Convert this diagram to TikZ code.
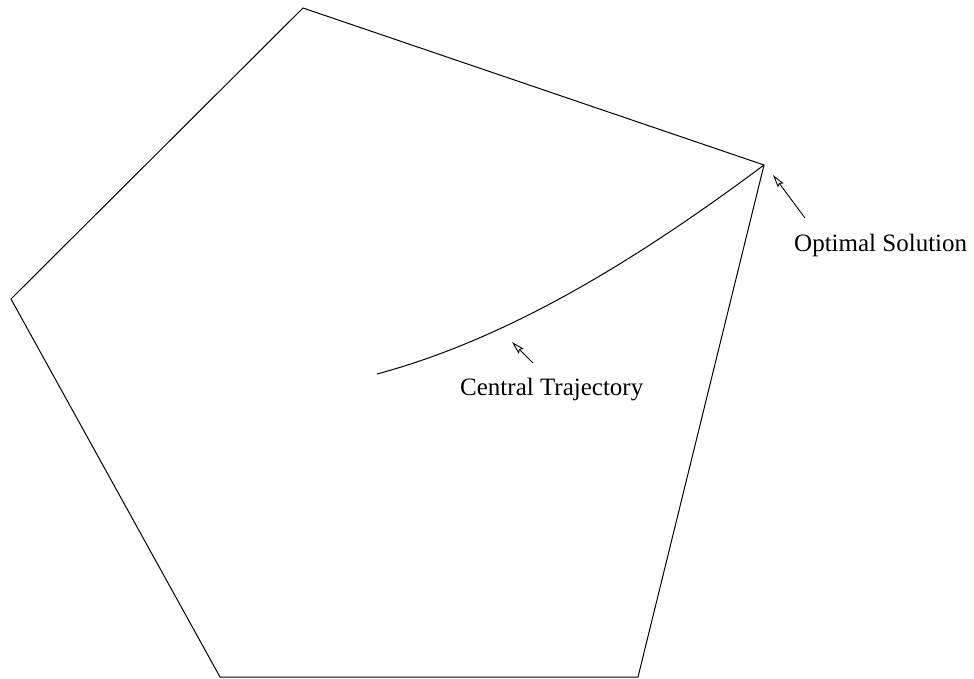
\documentclass[tikz,border=0pt]{standalone}
\usepackage{fontspec}
\setmainfont{Liberation Serif}
\usetikzlibrary{arrows.meta}
\begin{document}
\begin{tikzpicture}[x=1pt,y=-1pt,
  edge/.style={line width=1pt, line join=miter},
  lbl/.style={font=\fontsize{25}{30}\selectfont, anchor=base west, inner sep=0pt},
  pointer/.style={line width=0.9pt, -{Stealth[open, length=13pt, width=7pt, inset=2pt]}}]
\useasboundingbox (0,0) rectangle (974,679);
\coordinate (A) at (303,8);
\coordinate (B) at (764,165);
\coordinate (C) at (638,677);
\coordinate (D) at (220,677);
\coordinate (E) at (11,299);
\coordinate (S) at (377,374);
\draw[edge] (A) -- (B) -- (C) -- (D) -- (E) -- cycle;
\draw[edge] (S) .. controls (507,339) and (634,262) .. (B);
\node[lbl] (opt) at (794,251) {Optimal Solution};
\node[lbl] (ct) at (460,395) {Central Trajectory};
\coordinate (optTail) at (805,218);
\coordinate (optHead) at (773,175);
\coordinate (ctTail) at (533,363);
\coordinate (ctHead) at (512,342);
\draw[pointer] (optTail) -- (optHead);
\draw[pointer] (ctTail) -- (ctHead);
\end{tikzpicture}
\end{document}
